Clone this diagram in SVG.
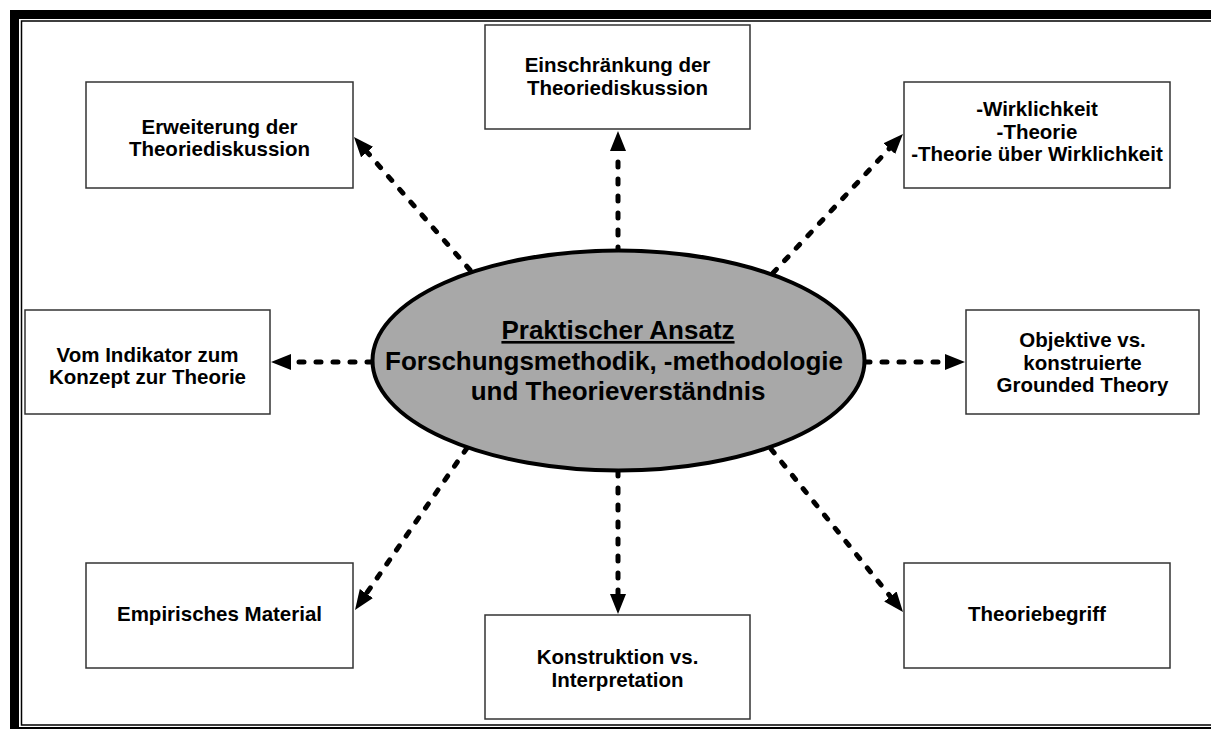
<svg xmlns="http://www.w3.org/2000/svg" width="1211" height="729" viewBox="0 0 1211 729">
  <style>
    .box { fill: #ffffff; stroke: #333333; stroke-width: 1.5; }
    .lbl { font-family: "Liberation Sans", Arial, sans-serif; font-weight: bold; font-size: 20.5px; fill: #000000; text-anchor: middle; }
    .core { font-family: "Liberation Sans", Arial, sans-serif; font-weight: bold; font-size: 26px; fill: #000000; text-anchor: middle; }
    .link { fill: none; stroke: #000000; stroke-width: 5; stroke-dasharray: 5 12; stroke-linecap: round; marker-end: url(#head); }
  </style>
  <defs>
    <marker id="head" markerUnits="userSpaceOnUse" viewBox="0 0 20 16" refX="0" refY="8" markerWidth="20" markerHeight="16" orient="auto">
      <path d="M0,0 L20,8 L0,16 Z" fill="#000000"/>
    </marker>
  </defs>

  <rect x="0" y="0" width="1211" height="729" fill="#ffffff"/>

  <!-- page frame: thick outer rule with a thin inner rule -->
  <g id="frame">
    <rect x="10" y="10" width="1201" height="9" fill="#000000"/>
    <rect x="10" y="10" width="9" height="719" fill="#000000"/>
    <rect x="10" y="727" width="1201" height="3" fill="#000000"/>
    <path d="M1211,21 H21.5 V725 H1211" fill="none" stroke="#000000" stroke-width="1.5"/>
  </g>

  <!-- dashed connectors from the central ellipse to the topic boxes -->
  <g id="connectors">
    <line class="link" x1="618" y1="252" x2="618" y2="151"/>
    <line class="link" x1="470" y1="270" x2="367.1" y2="152.1"/>
    <line class="link" x1="773" y1="273" x2="889.3" y2="148.6"/>
    <line class="link" x1="372" y1="362" x2="291" y2="362"/>
    <line class="link" x1="865" y1="362" x2="945" y2="362"/>
    <line class="link" x1="467" y1="448" x2="366.4" y2="593.5"/>
    <line class="link" x1="618" y1="471" x2="618" y2="594"/>
    <line class="link" x1="771" y1="449" x2="890.4" y2="596.5"/>
  </g>

  <g id="center">
    <ellipse cx="618.5" cy="360.5" rx="246" ry="110" fill="#a8a8a8" stroke="#000000" stroke-width="4"/>
    <text class="core" x="618" y="339" text-decoration="underline">Praktischer Ansatz</text>
    <text class="core" x="614" y="370">Forschungsmethodik, -methodologie</text>
    <text class="core" x="618" y="400">und Theorieverständnis</text>
  </g>

  <g id="erweiterung">
    <rect class="box" x="86" y="82" width="267" height="106"/>
    <text class="lbl" x="219.5" y="134">Erweiterung der</text>
    <text class="lbl" x="219.5" y="156">Theoriediskussion</text>
  </g>

  <g id="einschraenkung">
    <rect class="box" x="485" y="25" width="265" height="104"/>
    <text class="lbl" x="617.5" y="72">Einschränkung der</text>
    <text class="lbl" x="617.5" y="95">Theoriediskussion</text>
  </g>

  <g id="wirklichkeit">
    <rect class="box" x="904" y="82" width="266" height="106"/>
    <text class="lbl" x="1037" y="116">-Wirklichkeit</text>
    <text class="lbl" x="1037" y="138.5">-Theorie</text>
    <text class="lbl" x="1037" y="161">-Theorie über Wirklichkeit</text>
  </g>

  <g id="indikator">
    <rect class="box" x="25" y="310" width="245" height="104"/>
    <text class="lbl" x="147.5" y="362">Vom Indikator zum</text>
    <text class="lbl" x="147.5" y="384">Konzept zur Theorie</text>
  </g>

  <g id="grounded">
    <rect class="box" x="966" y="310" width="233" height="104"/>
    <text class="lbl" x="1082.5" y="347">Objektive vs.</text>
    <text class="lbl" x="1082.5" y="369.5">konstruierte</text>
    <text class="lbl" x="1082.5" y="392">Grounded Theory</text>
  </g>

  <g id="empirie">
    <rect class="box" x="86" y="563" width="267" height="105"/>
    <text class="lbl" x="219.5" y="621">Empirisches Material</text>
  </g>

  <g id="konstruktion">
    <rect class="box" x="485" y="615" width="265" height="104"/>
    <text class="lbl" x="617.5" y="664">Konstruktion vs.</text>
    <text class="lbl" x="617.5" y="687">Interpretation</text>
  </g>

  <g id="theoriebegriff">
    <rect class="box" x="904" y="563" width="266" height="105"/>
    <text class="lbl" x="1037" y="621">Theoriebegriff</text>
  </g>
</svg>
